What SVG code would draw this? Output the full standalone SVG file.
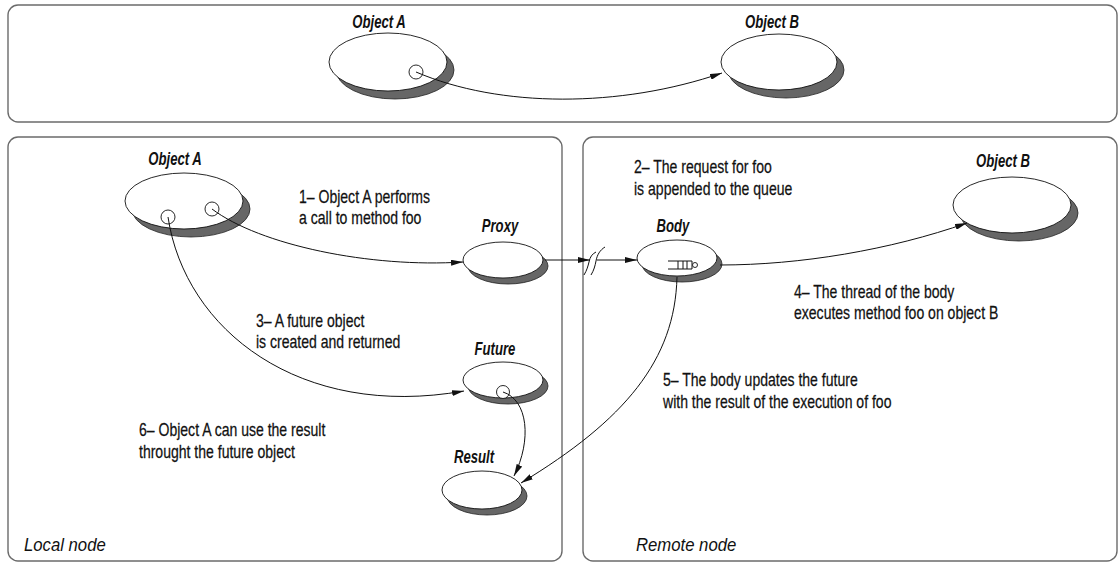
<svg xmlns="http://www.w3.org/2000/svg" width="1118" height="563" viewBox="0 0 1118 563">
<style>
.panel{fill:none;stroke:#6b6b6b;stroke-width:1.4}
.shadow{fill:#666;stroke:#222;stroke-width:0.8}
.obj{fill:#fff;stroke:#111;stroke-width:0.9}
.port{fill:#fff;stroke:#111;stroke-width:0.9}
.conn{fill:none;stroke:#111;stroke-width:1}
.lbl{font-family:"Liberation Sans",Arial,sans-serif;font-style:italic;font-weight:bold;font-size:18px;fill:#111;text-anchor:middle}
.txt{font-family:"Liberation Sans",Arial,sans-serif;font-size:18px;fill:#111;stroke:#111;stroke-width:0.25}
.area{font-family:"Liberation Sans",Arial,sans-serif;font-style:italic;font-size:19px;fill:#111}
</style>
<defs>
<marker id="ah" viewBox="0 0 12 6" refX="12" refY="3" markerWidth="12" markerHeight="6" markerUnits="userSpaceOnUse" orient="auto">
<path d="M0,0 L12,3 L0,6 z" fill="#111"/>
</marker>
</defs>
<g id="panels">
<rect class="panel" x="8" y="5" width="1109" height="117" rx="10"/>
<rect class="panel" x="8" y="137" width="554" height="424" rx="10"/>
<rect class="panel" x="583" y="137" width="534" height="424" rx="10"/>
<text class="area" transform="translate(24,551) scale(0.88,1)">Local node</text>
<text class="area" transform="translate(636,551) scale(0.88,1)">Remote node</text>
</g>
<g id="top-object-a">
<ellipse class="shadow" cx="395" cy="70" rx="59" ry="29"/>
<ellipse class="obj" cx="388" cy="62" rx="59" ry="29"/>
<circle class="port" cx="416" cy="72" r="7"/>
<text class="lbl" transform="translate(379,28) scale(0.73,1)">Object A</text>
</g>
<g id="top-object-b">
<ellipse class="shadow" cx="786" cy="70" rx="58" ry="28"/>
<ellipse class="obj" cx="779" cy="62" rx="58" ry="28"/>
<text class="lbl" transform="translate(772,28) scale(0.73,1)">Object B</text>
</g>
<g id="local-object-a">
<ellipse class="shadow" cx="191" cy="209" rx="59" ry="28"/>
<ellipse class="obj" cx="184" cy="201" rx="59" ry="28"/>
<circle class="port" cx="168" cy="217" r="7"/>
<circle class="port" cx="212" cy="209" r="7"/>
<text class="lbl" transform="translate(175,165) scale(0.73,1)">Object A</text>
</g>
<g id="proxy">
<ellipse class="shadow" cx="508" cy="266" rx="40" ry="18"/>
<ellipse class="obj" cx="503" cy="260" rx="40" ry="18"/>
<text class="lbl" transform="translate(500,232) scale(0.73,1)">Proxy</text>
</g>
<g id="body">
<ellipse class="shadow" cx="682" cy="264" rx="40" ry="18"/>
<ellipse class="obj" cx="677" cy="258" rx="40" ry="18"/>
<path class="conn" d="M668,261 H692 M668,269 H692 M678,261 V269 M683,261 V269 M687,261 V269 M692,261 V269"/>
<circle class="port" cx="695" cy="265" r="2.5"/>
<text class="lbl" transform="translate(673,232) scale(0.73,1)">Body</text>
</g>
<g id="remote-object-b">
<ellipse class="shadow" cx="1019" cy="213" rx="59" ry="28"/>
<ellipse class="obj" cx="1012" cy="205" rx="59" ry="28"/>
<text class="lbl" transform="translate(1003,167) scale(0.73,1)">Object B</text>
</g>
<g id="future">
<ellipse class="shadow" cx="508" cy="386" rx="40" ry="18"/>
<ellipse class="obj" cx="503" cy="380" rx="40" ry="18"/>
<circle class="port" cx="503" cy="392" r="6.5"/>
<text class="lbl" transform="translate(495,355) scale(0.73,1)">Future</text>
</g>
<g id="result">
<ellipse class="shadow" cx="487" cy="496" rx="40" ry="19"/>
<ellipse class="obj" cx="482" cy="490" rx="40" ry="19"/>
<text class="lbl" transform="translate(474,463) scale(0.73,1)">Result</text>
</g>
<g id="connectors">
<path class="conn" d="M416,72 C500,108 620,108 722,73" marker-end="url(#ah)"/>
<path class="conn" d="M212,209 C260,245 370,268 463,262" marker-end="url(#ah)"/>
<path class="conn" d="M545,260 L590,260" marker-end="url(#ah)"/>
<path class="conn" d="M584,275 C587,270 588,266 589,262 C590,257 592,254 596,252"/>
<path class="conn" d="M591,275 C594,270 595,266 596,261 C597,255 600,250 605,247"/>
<path class="conn" d="M597,260 L637,260" marker-end="url(#ah)"/>
<path class="conn" d="M720,265 C800,265 890,250 967,223" marker-end="url(#ah)"/>
<path class="conn" d="M168,217 C185,330 300,420 464,391" marker-end="url(#ah)"/>
<path class="conn" d="M677,277 C675,360 625,420 521,483" marker-end="url(#ah)"/>
<path class="conn" d="M503,392 C528,400 532,440 514,476" marker-end="url(#ah)"/>
</g>
<g id="notes">
<text class="txt" transform="translate(299,203) scale(0.78,1)">1– Object A performs</text>
<text class="txt" transform="translate(299,224) scale(0.78,1)">a call to method foo</text>
<text class="txt" transform="translate(634,173) scale(0.78,1)">2– The request for foo</text>
<text class="txt" transform="translate(634,195) scale(0.78,1)">is appended to the queue</text>
<text class="txt" transform="translate(256,327) scale(0.78,1)">3– A future object</text>
<text class="txt" transform="translate(256,348) scale(0.78,1)">is created and returned</text>
<text class="txt" transform="translate(794,298) scale(0.78,1)">4– The thread of the body</text>
<text class="txt" transform="translate(794,319) scale(0.78,1)">executes method foo on object B</text>
<text class="txt" transform="translate(663,386) scale(0.78,1)">5– The body updates the future</text>
<text class="txt" transform="translate(663,408) scale(0.78,1)">with the result of the execution of foo</text>
<text class="txt" transform="translate(139,436) scale(0.78,1)">6– Object A can use the result</text>
<text class="txt" transform="translate(139,458) scale(0.78,1)">throught the future object</text>
</g>
</svg>
